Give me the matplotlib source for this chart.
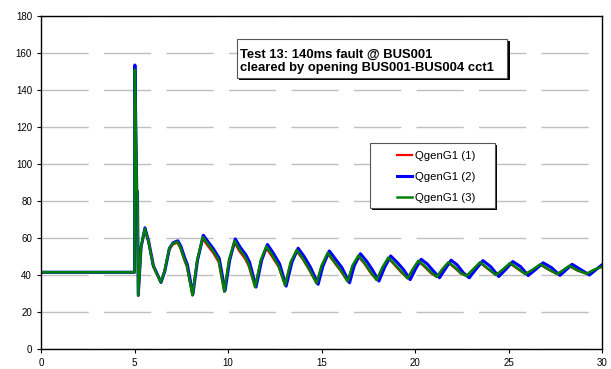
import matplotlib
matplotlib.use('Agg')
import matplotlib.pyplot as plt
import matplotlib.patheffects as pe
from matplotlib.patches import Rectangle

plt.rcParams['font.family'] = ['Liberation Sans', 'DejaVu Sans']

# time (s) shared by QgenG1 (1) and (3)
t_13 = [0, 5.0, 5.02, 5.12, 5.16, 5.2, 5.35, 5.55, 5.75, 6.0, 6.4, 6.6, 6.85, 7.05, 7.3,
        7.45, 7.65, 7.8, 8.1, 8.35, 8.65, 8.9, 9.2, 9.5, 9.8, 10.05, 10.35, 10.6, 10.9,
        11.1, 11.45, 11.75, 12.05, 12.35, 12.7, 13.05, 13.35, 13.67, 14.0, 14.35, 14.74,
        15.0, 15.33, 15.7, 16.0, 16.4, 16.65, 16.97, 17.3, 17.6, 17.95, 18.25, 18.57,
        18.9, 19.25, 19.6, 19.9, 20.18, 20.5, 20.85, 21.16, 21.45, 21.78, 22.1, 22.45,
        22.76, 23.1, 23.48, 23.9, 24.33, 24.7, 25.08, 25.5, 25.9, 26.3, 26.7, 27.15,
        27.6, 27.9, 28.25, 28.7, 29.18, 29.6, 30.0]

q1 = [41.5, 41.5, 150, 86, 85, 29, 55, 64.5, 57.5, 44.5, 36, 42, 53.5, 56.5, 57.5,
      54.5, 48.5, 44.5, 29, 47.5, 59.5, 56, 52, 47, 31, 47.5, 57.5, 53, 49,
      45, 33.5, 47.5, 54.5, 50, 44.5, 34.5, 46.5, 52.8, 48.5, 42.5, 35.5,
      44.5, 51.5, 46.5, 42.5, 36.5, 44.5, 50, 46, 41.5, 37.3, 43.5, 49,
      45.5, 41.5, 38.2, 43, 47.3, 44.5, 41, 39, 42.5, 46.6, 44, 40.8,
      39.5, 42.8, 46.6, 43.2, 40, 42.8, 46.2, 43.2, 40.5, 42.8, 45.6, 42.8,
      40.5, 42.3, 44.8, 42.3, 40.7, 42.8, 44.5]

q3 = [41.5, 41.5, 151, 86, 85, 29, 55, 65, 58, 45, 36, 42, 54, 57, 58,
      55, 49, 45, 29, 48, 60.5, 57, 53, 48, 31, 48, 58.5, 54, 50,
      46, 33.5, 48, 55.5, 51, 45, 34.5, 47, 53.5, 49, 43, 35.5,
      45, 52, 47, 43, 36.5, 45, 50.5, 46.5, 42, 37.3, 44, 49.4,
      46, 42, 38.2, 43.5, 47.7, 45, 41.5, 39, 43, 46.9, 44.5, 41,
      39.5, 43, 46.9, 43.5, 40, 43, 46.5, 43.5, 40.5, 43, 45.8, 43,
      40.5, 42.5, 45, 42.5, 40.7, 43, 44.5]

# QgenG1 (2) runs a little later with a slightly larger swing
t_2 = [0, 5.0, 5.02, 5.12, 5.16, 5.2, 5.35, 5.56, 5.76, 6.01, 6.42, 6.62, 6.87, 7.07, 7.32,
       7.48, 7.68, 7.83, 8.12, 8.37, 8.68, 8.93, 9.23, 9.53, 9.84, 10.09, 10.39, 10.65, 10.95,
       11.15, 11.5, 11.8, 12.11, 12.41, 12.76, 13.11, 13.42, 13.75, 14.07, 14.42, 14.82,
       15.08, 15.42, 15.79, 16.09, 16.5, 16.75, 17.08, 17.41, 17.71, 18.07, 18.37, 18.7,
       19.03, 19.38, 19.74, 20.04, 20.33, 20.65, 21.0, 21.31, 21.6, 21.93, 22.25, 22.6,
       22.9, 23.25, 23.63, 24.05, 24.48, 24.85, 25.23, 25.65, 26.05, 26.45, 26.85, 27.3,
       27.75, 28.05, 28.4, 28.85, 29.33, 29.75, 30.0]

q2 = [41.5, 41.5, 153.5, 86, 85, 29, 55, 65.5, 58, 45, 36, 42, 54.5, 57.5, 58.5,
      55.5, 49.5, 45.5, 29.5, 48, 61.5, 58, 54, 49, 31.5, 48, 59.5, 55, 51,
      47, 33.5, 48, 56.5, 52, 46, 34, 47, 54.5, 50, 44, 35,
      45, 53, 48, 44, 35.8, 45, 51.5, 47.5, 43, 36.7, 44, 50.3,
      47, 43, 37.5, 43.5, 48.5, 46, 42, 38.5, 43, 48, 45.5, 41,
      38.5, 43, 47.8, 44.5, 39.2, 43, 47.3, 44.5, 39.7, 43, 46.6, 44,
      39.8, 42.5, 45.8, 43, 40, 43.5, 45.5]

title_lines = ['Test 13: 140ms fault @ BUS001', 'cleared by opening BUS001-BUS004 cct1']

fig = plt.figure(figsize=(6.11, 3.69), dpi=100)
ax = fig.add_axes([0.0671, 0.0542, 0.9182, 0.9024])

ax.plot(t_13, q1, color='#ff0000', lw=1.6, label='QgenG1 (1)')
ax.plot(t_2, q2, color='#0000ff', lw=2.2, label='QgenG1 (2)')
ax.plot(t_13, q3, color='#008000', lw=1.8, label='QgenG1 (3)')

ax.set_xlim(0, 30)
ax.set_ylim(0, 180)
ax.set_xticks(range(0, 31, 5))
ax.set_yticks(range(0, 181, 20))
ax.tick_params(labelsize=7, length=3, width=0.8, direction='out')
ax.yaxis.grid(True, color='#c0c0c0', lw=1, linestyle=(0, (34, 11)))
ax.set_axisbelow(True)
for s in ax.spines.values():
    s.set_linewidth(1)

shadow = [pe.SimplePatchShadow(offset=(1.5, -1.5), shadow_rgbFace='k', alpha=1), pe.Normal()]

# title box
box1 = Rectangle((0.3485, 0.8147), 0.4830, 0.1153, transform=ax.transAxes,
                 fc='white', ec='#555555', lw=0.8, zorder=4)
box1.set_path_effects(shadow)
ax.add_patch(box1)
for yy, line in zip([0.876, 0.835], title_lines):
    ax.text(0.3547, yy, line, transform=ax.transAxes, ha='left', va='baseline',
            fontsize=9.4, fontweight='bold', zorder=5)

# legend box
box2 = Rectangle((0.5865, 0.4234), 0.2228, 0.1952, transform=ax.transAxes,
                 fc='white', ec='#555555', lw=0.8, zorder=4)
box2.set_path_effects(shadow)
ax.add_patch(box2)
leg = ax.legend(loc='upper left', bbox_to_anchor=(0.6346, 0.594), fontsize=8.2,
                frameon=False, handlelength=1.35, handletextpad=0.27,
                labelspacing=0.95, borderpad=0, borderaxespad=0)
leg.set_zorder(5)

fig.savefig('out.png', dpi=100)
